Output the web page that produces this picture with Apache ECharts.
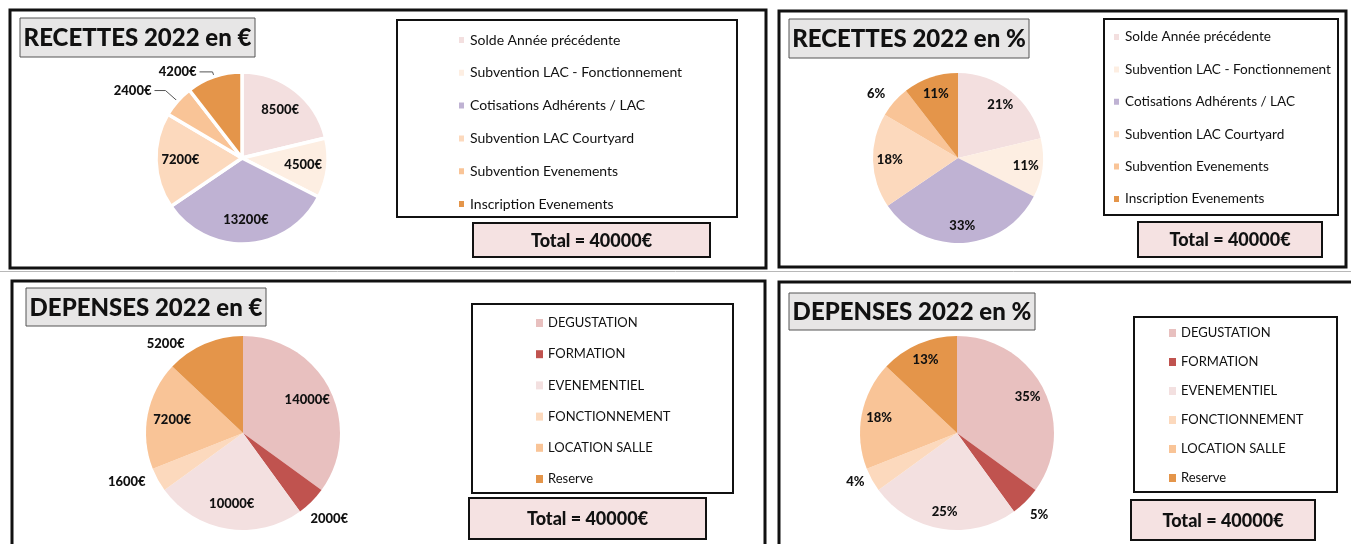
<!DOCTYPE html>
<html lang="fr">
<head>
<meta charset="UTF-8">
<title>Budget 2022</title>
<script src="https://cdn.jsdelivr.net/npm/echarts@6/dist/echarts.min.js"></script>
<style>
  html, body { margin: 0; padding: 0; background: #fff; }
  #chart { width: 1351px; height: 544px; }
</style>
</head>
<body>
<div id="chart"></div>
<script>
// données
var recettesNoms = ['Solde Année précédente', 'Subvention LAC - Fonctionnement', 'Cotisations Adhérents / LAC',
  'Subvention LAC Courtyard', 'Subvention Evenements', 'Inscription Evenements'];
var recettesValeurs = [8500, 4500, 13200, 7200, 2400, 4200];
var depensesNoms = ['DEGUSTATION', 'FORMATION', 'EVENEMENTIEL', 'FONCTIONNEMENT', 'LOCATION SALLE', 'Reserve'];
var depensesValeurs = [14000, 2000, 10000, 1600, 7200, 5200];
var totalTexte = 'Total = 40000€';

var recettesCouleurs = ['#f3dfdf', '#fdeee2', '#bfb2d3', '#fcd9bd', '#f9c497', '#e4954a'];
var depensesCouleurs = ['#e8c0bf', '#c0534f', '#f3e0e0', '#fcd9bd', '#f9c497', '#e4954a'];

var FONT = 'Lato, "Open Sans", sans-serif';
var chart = echarts.init(document.getElementById('chart'));

function euros(p) { return p.value + '€'; }
function pourcent(p) { return Math.round(p.percent) + '%'; }

// un camembert, les étiquettes intérieures sont repoussées vers le bord (comme Excel)
function camembert(o) {
  return {
    type: 'pie',
    center: o.center,
    radius: o.radius,
    startAngle: 90,
    avoidLabelOverlap: false,
    emphasis: { disabled: true },
    itemStyle: { borderColor: '#fff', borderWidth: o.gap || 0 },
    label: {
      position: 'inside', formatter: o.format,
      fontFamily: FONT, fontWeight: 900, fontSize: 13, color: '#111',
      distanceToLabelLine: 0
    },
    labelLine: { show: false },
    labelLayout: function (p) {
      var ext = o.outside[p.dataIndex];
      if (ext) return ext.center ? { align: 'center' } : {};
      var r = p.labelRect;
      var k = o.inner / 0.5 - 1;
      return {
        dx: (r.x + r.width / 2 - o.center[0]) * k,
        dy: (r.y + r.height / 2 - o.center[1]) * k
      };
    },
    data: o.names.map(function (n, i) {
      var item = { name: n, value: o.values[i], itemStyle: { color: o.colors[i] } };
      var ext = o.outside[i];
      if (ext) {
        item.label = { position: 'outside', distanceToLabelLine: ext.d || 0 };
        item.labelLine = {
          show: !!ext.line, length: ext.l1, length2: ext.l2,
          lineStyle: { color: '#555', width: 1 }
        };
      }
      return item;
    })
  };
}

function legende(names, left, top, gap, size) {
  return {
    data: names, orient: 'vertical', left: left, top: top, padding: 0,
    itemGap: gap, itemWidth: 7, itemHeight: 8, icon: 'rect', selectedMode: false,
    textStyle: { fontFamily: FONT, fontSize: size, color: '#111', lineHeight: 16 }
  };
}

function cadre(x, y, w, h, lw, fill) {
  return { type: 'rect', shape: { x: x, y: y, width: w, height: h },
    style: { fill: fill || 'none', stroke: '#111', lineWidth: lw } };
}
function texte(x, y, t, size) {
  return { type: 'text', x: x, y: y, style: { text: t, align: 'center', verticalAlign: 'middle',
    fontFamily: FONT, fontWeight: 900, fontSize: size, fill: '#111' } };
}
function titre(x, y, w, h, t) {
  return [
    { type: 'rect', shape: { x: x, y: y, width: w, height: h },
      style: { fill: '#e7e6e6', stroke: '#555', lineWidth: 1 } },
    texte(x + w / 2, y + h / 2 + 1, t, 24)
  ];
}
function total(x, y, w, h) {
  return [cadre(x, y, w, h, 2, '#f5e2e2'), texte(x + w / 2, y + h / 2 + 1, totalTexte, 18)];
}

var graphics = [
  { type: 'line', shape: { x1: 0, y1: 271.5, x2: 1351, y2: 271.5 }, style: { stroke: '#b8b8b8', lineWidth: 1 } },
  cadre(10, 10, 756, 258, 3), cadre(779, 11, 567, 256, 3),
  cadre(12, 281, 753, 280, 3), cadre(779, 282, 600, 280, 3),
  cadre(397, 20, 340, 197, 2), cadre(1104, 19, 234, 196, 2),
  cadre(472, 304, 261, 189, 2), cadre(1134, 317, 203, 175, 2)
].concat(
  titre(20, 18, 235, 39, 'RECETTES 2022 en €'), titre(789, 19, 240, 39, 'RECETTES 2022 en %'),
  titre(26, 288, 240, 38, 'DEPENSES 2022 en €'), titre(789, 293, 246, 37, 'DEPENSES 2022 en %'),
  total(473, 223, 237, 34), total(1138, 222, 184, 35),
  total(469, 498, 237, 41), total(1131, 500, 184, 40)
);

var option = {
  animation: false,
  graphic: graphics,
  legend: [
    legende(recettesNoms, 457, 32, 16.8, 14),
    legende(recettesNoms, 1112, 29, 16.4, 13.6),
    legende(depensesNoms, 536, 315, 15.2, 13),
    legende(depensesNoms, 1169, 325, 13, 13)
  ],
  series: [
    camembert({ names: recettesNoms, values: recettesValeurs, colors: recettesCouleurs,
      center: [242, 158], radius: 86, gap: 3.5, format: euros, inner: 0.67,
      outside: { 4: { l1: 16, l2: 11, line: true, d: 3 }, 5: { l1: 5, l2: 13, line: true, d: 3 } } }),
    camembert({ names: recettesNoms, values: recettesValeurs, colors: recettesCouleurs,
      center: [958, 158], radius: 85, format: pourcent, inner: 0.75,
      outside: { 4: { l1: 12, l2: 0 } } }),
    camembert({ names: depensesNoms, values: depensesValeurs, colors: depensesCouleurs,
      center: [243, 433], radius: 97, format: euros, inner: 0.70,
      outside: { 1: { l1: 25, l2: 0, center: true }, 3: { l1: 5, l2: 3, d: 5 }, 5: { l1: 0, l2: 15, d: 5 } } }),
    camembert({ names: depensesNoms, values: depensesValeurs, colors: depensesCouleurs,
      center: [957, 433], radius: 97, format: pourcent, inner: 0.77,
      outside: { 1: { l1: 19, l2: 0, center: true }, 3: { l1: 4, l2: 4 } } })
  ]
};
chart.setOption(option);
</script>
</body>
</html>
